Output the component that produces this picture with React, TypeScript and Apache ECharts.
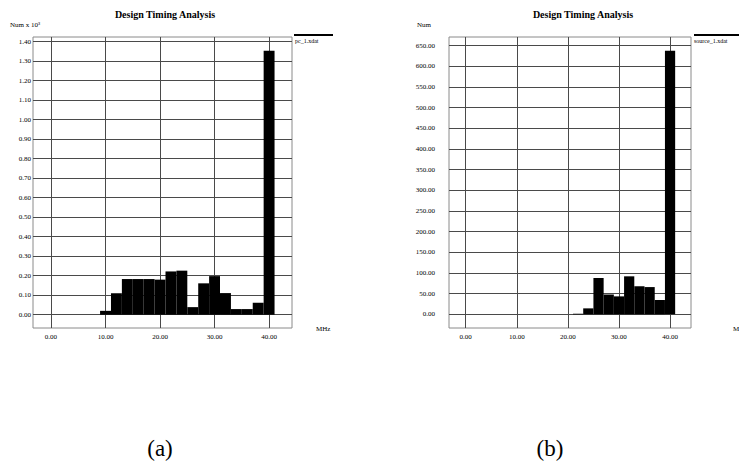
import React, { useEffect, useRef } from "react";
import * as echarts from "echarts";

const binWidth = 2;

const leftCenters = [10, 12, 14, 16, 18, 20, 22, 24, 26, 28, 30, 32, 34, 36, 38, 40];
const leftValues = [0.02, 0.11, 0.183, 0.183, 0.183, 0.18, 0.222, 0.226, 0.039, 0.161, 0.198, 0.111, 0.029, 0.029, 0.062, 1.354];

const rightCenters = [22, 24, 26, 28, 30, 32, 34, 36, 38, 40];
const rightValues = [1.5, 14.5, 88, 48, 43.5, 92, 68, 66, 34.7, 638];

const xTicks = [0, 10, 20, 30, 40];
const leftYTicks = [0, 0.1, 0.2, 0.3, 0.4, 0.5, 0.6, 0.7, 0.8, 0.9, 1.0, 1.1, 1.2, 1.3, 1.4];
const rightYTicks = [0, 50, 100, 150, 200, 250, 300, 350, 400, 450, 500, 550, 600, 650];

const titleText = "Design Timing Analysis";
const leftUnit = "Num x 10³";
const rightUnit = "Num";
const leftLegend = "pc_1.xdat";
const rightLegend = "source_1.xdat";
const xUnit = "MHz";
const captions = ["(a)", "(b)"];

const SERIF = "'Liberation Serif', 'DejaVu Serif', serif";

function binData(centers: number[], values: number[]) {
  return centers.map((c, i) => [c - binWidth / 2, c + binWidth / 2, values[i]]);
}

const renderBar = (params: any, api: any) => {
  const s = api.value(0);
  const e = api.value(1);
  const v = api.value(2);
  const p0 = api.coord([s, v]);
  const p1 = api.coord([e, 0]);
  return {
    type: "rect",
    shape: { x: p0[0], y: p0[1], width: p1[0] - p0[0], height: p1[1] - p0[1] },
    style: { fill: "#000" },
  };
};

export default function App() {
  const ref = useRef<HTMLDivElement>(null);
  useEffect(() => {
    if (!ref.current) return;
    const chart = echarts.init(ref.current, null, { renderer: "svg" });
    const gridLine = { show: true, lineStyle: { color: "#4a4a4a", width: 1 } };
    const xAxisCommon = (gridIndex: number, min: number, max: number) => ({
      type: "value",
      gridIndex,
      min,
      max,
      axisLine: { show: false },
      axisTick: { show: false, customValues: xTicks },
      splitLine: gridLine,
      axisLabel: {
        customValues: xTicks,
        formatter: (v: number) => v.toFixed(2),
        fontFamily: SERIF,
        fontSize: 7,
        color: "#000",
        margin: 5,
      },
    });
    const yAxisCommon = (gridIndex: number, min: number, max: number, ticks: number[], margin: number) => ({
      type: "value",
      gridIndex,
      min,
      max,
      axisLine: { show: false },
      axisTick: { show: false, customValues: ticks },
      splitLine: gridLine,
      axisLabel: {
        customValues: ticks,
        formatter: (v: number) => v.toFixed(2),
        fontFamily: SERIF,
        fontSize: 7,
        color: "#000",
        margin,
      },
    });
    const txt = (x: number, y: number, text: string, opts: any = {}) => ({
      type: "text",
      x,
      y,
      style: {
        text,
        fill: "#000",
        font: `${opts.weight || "normal"} ${opts.size || 7}px ${SERIF}`,
        textAlign: opts.align || "left",
        textVerticalAlign: "middle",
      },
    });
    chart.setOption({
      animation: false,
      backgroundColor: "#fff",
      grid: [
        { left: 33, top: 37, width: 259, height: 291, show: true, borderColor: "#8a8a8a", borderWidth: 1, backgroundColor: "transparent" },
        { left: 449, top: 37, width: 242, height: 291, show: true, borderColor: "#8a8a8a", borderWidth: 1, backgroundColor: "transparent" },
      ],
      xAxis: [xAxisCommon(0, -3.3, 44.2), xAxisCommon(1, -3.27, 44.1)],
      yAxis: [
        yAxisCommon(0, -0.068, 1.424, leftYTicks, 2),
        yAxisCommon(1, -33, 671, rightYTicks, 14),
      ],
      series: [
        {
          type: "custom",
          xAxisIndex: 0,
          yAxisIndex: 0,
          renderItem: renderBar,
          encode: { x: [0, 1], y: 2 },
          data: binData(leftCenters, leftValues),
        },
        {
          type: "custom",
          xAxisIndex: 1,
          yAxisIndex: 1,
          renderItem: renderBar,
          encode: { x: [0, 1], y: 2 },
          data: binData(rightCenters, rightValues),
        },
      ],
      graphic: [
        txt(165, 14, titleText, { weight: "bold", size: 10, align: "center" }),
        txt(583, 14, titleText, { weight: "bold", size: 10, align: "center" }),
        txt(10, 25, leftUnit, { size: 7 }),
        txt(417, 25, rightUnit, { size: 7 }),
        { type: "line", shape: { x1: 294, y1: 35, x2: 333, y2: 35 }, style: { stroke: "#000", lineWidth: 2 } },
        { type: "line", shape: { x1: 694, y1: 35, x2: 739, y2: 35 }, style: { stroke: "#000", lineWidth: 2 } },
        txt(295, 40.5, leftLegend, { size: 6 }),
        txt(694, 40.5, rightLegend, { size: 6 }),
        txt(316, 329, xUnit, { size: 7 }),
        txt(733, 329, xUnit, { size: 7 }),
        txt(160, 448, captions[0], { size: 23, align: "center" }),
        txt(550, 448, captions[1], { size: 23, align: "center" }),
      ],
    });
    return () => chart.dispose();
  }, []);
  return (
    <div
      ref={ref}
      style={{ position: "fixed", left: 0, top: 0, width: 739, height: 470, background: "#fff" }}
    />
  );
}
